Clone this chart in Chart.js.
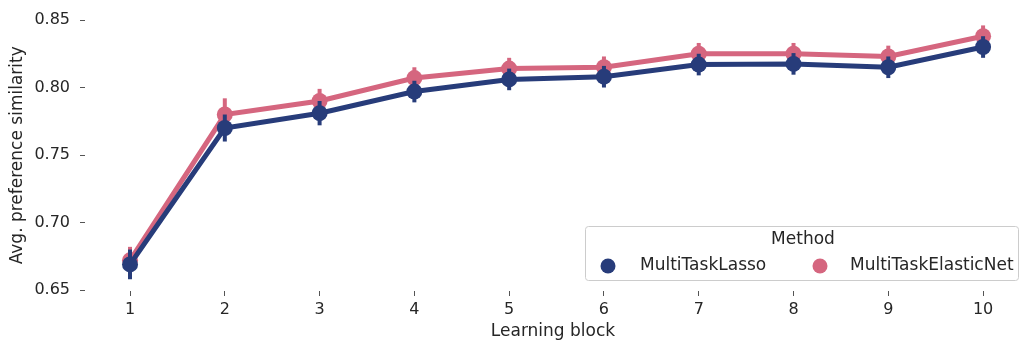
<!DOCTYPE html>
<html>
<head>
<meta charset="utf-8">
<script src="https://cdn.jsdelivr.net/npm/chart.js@4/dist/chart.umd.min.js"></script>
<style>
  html, body { margin: 0; padding: 0; background: #fff; }
  #wrap { width: 1021px; height: 343px; }
</style>
</head>
<body>
<div id="wrap"><canvas id="chart"></canvas></div>
<script>
// learning blocks and mean similarity per method
var blocks = [1, 2, 3, 4, 5, 6, 7, 8, 9, 10];
var lassoMean = [0.669, 0.770, 0.781, 0.797, 0.806, 0.808, 0.817, 0.8175, 0.815, 0.830];
var lassoErr = [0.011, 0.010, 0.009, 0.008, 0.008, 0.008, 0.008, 0.008, 0.008, 0.008];
var elasticMean = [0.672, 0.780, 0.790, 0.807, 0.814, 0.815, 0.825, 0.825, 0.823, 0.838];
var elasticErr = [0.010, 0.012, 0.009, 0.008, 0.008, 0.008, 0.008, 0.008, 0.008, 0.008];
var yTicks = [0.65, 0.70, 0.75, 0.80, 0.85];

var NAVY = "#273c7a";
var PINK = "#d5667f";
var FONT = "'DejaVu Sans', sans-serif";
var TICK_FS = 16;
var LABEL_FS = 17;

function points(ys){
  return blocks.map(function(b, i){ return {x: b, y: ys[i]}; });
}

// vertical error bars, drawn just under each series
var errorBars = {
  id: "errorBars",
  beforeDatasetDraw: function(chart, args){
    var ds = chart.data.datasets[args.index];
    var x = chart.scales.x, y = chart.scales.y, ctx = chart.ctx;
    ctx.save();
    ctx.strokeStyle = ds.borderColor;
    ctx.lineWidth = 4;
    ds.data.forEach(function(p, i){
      var px = x.getPixelForValue(p.x);
      ctx.beginPath();
      ctx.moveTo(px, y.getPixelForValue(p.y - ds.err[i]));
      ctx.lineTo(px, y.getPixelForValue(p.y + ds.err[i]));
      ctx.stroke();
    });
    ctx.restore();
  }
};

// legend box in the lower right corner
var methodLegend = {
  id: "methodLegend",
  afterDraw: function(chart){
    var ctx = chart.ctx;
    var bx = 585, by = 226, bw = 433, bh = 54;
    ctx.save();
    ctx.fillStyle = "rgba(255,255,255,0.8)";
    ctx.strokeStyle = "#cccccc";
    ctx.lineWidth = 1;
    ctx.beginPath();
    ctx.roundRect(bx + 0.5, by + 0.5, bw, bh, 3);
    ctx.fill();
    ctx.stroke();
    ctx.fillStyle = "#262626";
    ctx.font = LABEL_FS + "px " + FONT;
    ctx.textAlign = "center";
    ctx.textBaseline = "middle";
    ctx.fillText("Method", 803, 240);
    var items = [[608, 640], [820, 850]];
    chart.data.datasets.forEach(function(ds, i){
      ctx.fillStyle = ds.borderColor;
      ctx.beginPath();
      ctx.arc(items[i][0], 266, 7.5, 0, Math.PI * 2);
      ctx.fill();
      ctx.fillStyle = "#262626";
      ctx.textAlign = "left";
      ctx.fillText(ds.label, items[i][1], 266);
    });
    ctx.restore();
  }
};

new Chart(document.getElementById("chart"), {
  type: "line",
  data: {
    datasets: [
      {label: "MultiTaskLasso", data: points(lassoMean), err: lassoErr,
       borderColor: NAVY, backgroundColor: NAVY, borderWidth: 5,
       pointRadius: 8, pointBorderWidth: 0, pointBackgroundColor: NAVY, tension: 0},
      {label: "MultiTaskElasticNet", data: points(elasticMean), err: elasticErr,
       borderColor: PINK, backgroundColor: PINK, borderWidth: 5,
       pointRadius: 8, pointBorderWidth: 0, pointBackgroundColor: PINK, tension: 0}
    ]
  },
  options: {
    responsive: true,
    maintainAspectRatio: false,
    animation: false,
    layout: {autoPadding: false, padding: {top: 3, right: 0, left: 4, bottom: 0}},
    plugins: {legend: {display: false}, tooltip: {enabled: false}},
    scales: {
      x: {
        type: "linear", min: 0.525, max: 10.4,
        afterBuildTicks: function(s){ s.ticks = blocks.map(function(v){ return {value: v}; }); },
        afterFit: function(s){ s.height = 52; },
        border: {display: false},
        grid: {drawOnChartArea: false, tickLength: 5, tickWidth: 1, color: "#555"},
        ticks: {color: "#262626", font: {family: FONT, size: TICK_FS}, padding: 4},
        title: {display: true, text: "Learning block", color: "#262626", font: {family: FONT, size: LABEL_FS}, padding: {top: 0, bottom: 1}}
      },
      y: {
        min: 0.6493, max: 0.8503,
        afterBuildTicks: function(s){ s.ticks = yTicks.map(function(v){ return {value: v}; }); },
        afterFit: function(s){ s.width = 81; },
        border: {display: false},
        grid: {drawOnChartArea: false, tickLength: 5, tickWidth: 1, color: "#555"},
        ticks: {color: "#262626", font: {family: FONT, size: TICK_FS}, padding: 10,
                callback: function(v){ return v.toFixed(2); }},
        title: {display: true, text: "Avg. preference similarity", color: "#262626", font: {family: FONT, size: LABEL_FS}, padding: {top: 3, bottom: 0}}
      }
    }
  },
  plugins: [errorBars, methodLegend]
});
</script>
</body>
</html>
